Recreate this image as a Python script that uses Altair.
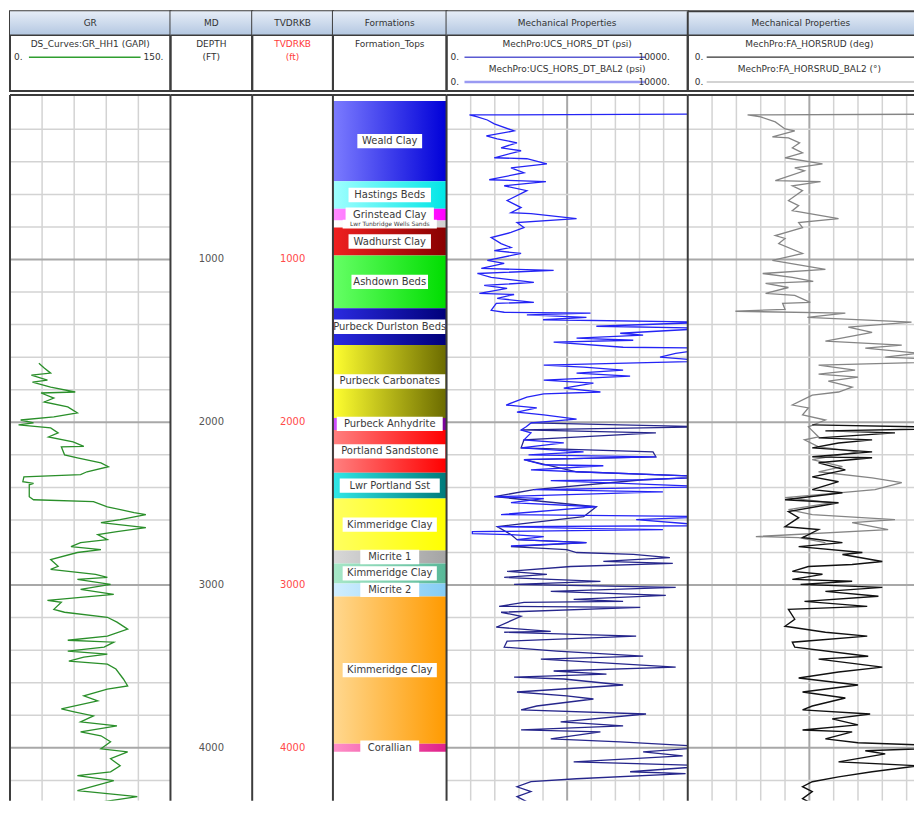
import altair as alt
import pandas as pd

# ---------------- data ----------------
GR_DEPTH = [1637, 1667, 1698, 1710, 1741, 1753, 1784, 1814, 1820, 1851, 1875, 1906, 1943, 1967, 1986,
            2004, 2016, 2035, 2065, 2090, 2120, 2148, 2151, 2200, 2218, 2249, 2273, 2304, 2322, 2335,
            2365, 2375, 2384, 2457, 2476, 2488, 2519, 2555, 2567, 2598, 2617, 2647, 2672, 2690, 2721,
            2739, 2764, 2782, 2800, 2843, 2885, 2904, 2934, 2953, 2965, 2996, 3027, 3057, 3094, 3106,
            3149, 3167, 3198, 3228, 3271, 3314, 3339, 3351, 3381, 3406, 3424, 3443, 3467, 3486, 3516,
            3577, 3620, 3639, 3681, 3712, 3761, 3779, 3804, 3841, 3865, 3902, 3926, 3963, 4006, 4025,
            4067, 4110, 4147, 4171, 4202, 4263, 4300, 4343, 4373]
GR_VALUE = [27, 32, 38, 20, 35, 21, 38, 61, 29, 41, 32, 54, 63, 41, 10,
            22, 8, 38, 45, 36, 59, 69, 48, 51, 63, 85, 92, 72, 66, 13,
            12, 22, 18, 18, 22, 78, 91, 116, 127, 103, 85, 127, 100, 82, 91,
            66, 57, 85, 63, 38, 45, 38, 80, 91, 63, 94, 66, 97, 35, 48,
            41, 51, 91, 100, 110, 91, 54, 97, 88, 54, 91, 69, 55, 91, 99,
            106, 110, 91, 69, 82, 48, 60, 78, 66, 100, 66, 85, 94, 85, 110,
            94, 103, 94, 63, 97, 63, 119, 75, 91]

UCS_DEPTH = [106, 112, 124, 143, 167, 210, 241, 259, 283, 314, 332, 375, 381, 412, 437,
             467, 510, 522, 547, 577, 638, 681, 712, 718, 749, 773, 804, 834, 865, 902,
             926, 945, 963, 1006, 1024, 1055, 1067, 1086, 1110, 1141, 1159, 1178, 1208, 1215, 1239,
             1263, 1269, 1312, 1324, 1330, 1340, 1355, 1370, 1385, 1410, 1422, 1453, 1465, 1483, 1496,
             1508, 1539, 1545, 1576, 1600, 1624, 1649, 1661, 1679, 1698, 1716, 1741, 1759, 1790, 1814,
             1826, 1845, 1894, 1912, 1937, 1955, 1980, 2004, 2028, 2047, 2065, 2108, 2127, 2157, 2182,
             2200, 2212, 2230, 2261, 2267, 2292, 2304, 2335, 2353, 2358, 2396, 2414, 2427, 2457, 2469,
             2494, 2519, 2567, 2580, 2598, 2635, 2641, 2653, 2659, 2672, 2684, 2690, 2702, 2721, 2739, 2760]
UCS_VALUE = [11000, 950, 1280, 1690, 1980, 2800, 1650, 2100, 2920, 2260, 3090, 1980, 3330, 4160, 2670,
             3210, 1770, 4120, 2390, 3330, 2510, 3090, 2670, 3500, 5390, 2920, 3210, 2670, 1850, 2260,
             2670, 1980, 3090, 1690, 2390, 1440, 4440, 1280, 1850, 3620, 1560, 2510, 1360, 2800, 2100,
             3620, 2060, 1850, 2390, 5970, 3330, 5800, 4000, 11000, 6210, 11000, 7200, 8150, 5390, 7740,
             4440, 7320, 11000, 9500, 8850, 11000, 4030, 5680, 7320, 5390, 7610, 4030, 6090, 4860, 6380,
             4030, 3330, 2470, 3740, 2920, 4030, 5390, 3500, 3300, 3090, 3500, 3210, 4860, 3090, 5680,
             3400, 8680, 3210, 4030, 6500, 3500, 5390, 11000, 8150, 4320, 11000, 3620, 8970, 1980, 4030,
             2670, 6210, 2260, 11000, 7860, 11000, 2100, 6090, 8970, 1070, 1070, 2670, 4030, 2920, 5800, 2670]

UCS_BAL2_DEPTH = [2004, 2028, 2047, 2065, 2108, 2157, 2182, 2212, 2230, 2304, 2335, 2353, 2414, 2457, 2519,
                  2580, 2641, 2690, 2721, 2739, 2764, 2782, 2800, 2812, 2831, 2855, 2867, 2886, 2916, 2934,
                  2953, 2977, 2996, 3014, 3039, 3063, 3088, 3100, 3106, 3131, 3137, 3167, 3192, 3259, 3284,
                  3290, 3314, 3345, 3381, 3406, 3437, 3455, 3504, 3528, 3547, 3565, 3577, 3614, 3657, 3681,
                  3700, 3743, 3767, 3792, 3841, 3865, 3890, 3902, 3945, 3963, 3994, 4025, 4049, 4086, 4110,
                  4147, 4159, 4190, 4208, 4239, 4269, 4300, 4331, 4343, 4361, 4386]
UCS_BAL2_VALUE = [3500, 11000, 3090, 8680, 3210, 3090, 8560, 8680, 3210, 5390, 11000, 8150, 3620, 1980, 6210,
                  5680, 2100, 2670, 2920, 5800, 2670, 4980, 5390, 7740, 9260, 6500, 9380, 5150, 2510, 4160,
                  2390, 6380, 2800, 9500, 4320, 9090, 5270, 7320, 3210, 2180, 8030, 2260, 3090, 2060, 4320,
                  2390, 7860, 2510, 2390, 4570, 8150, 3910, 9500, 4440, 6630, 2800, 4860, 7320, 2920, 4980,
                  6090, 3740, 3090, 8270, 4730, 7320, 3090, 6380, 4320, 7200, 11000, 8150, 9790, 5270, 11000,
                  7610, 9910, 5390, 3500, 2920, 3500, 2920, 3330, 2800, 4730, 3620]

FA_BAL2_DEPTH = [106, 112, 124, 155, 198, 210, 247, 253, 283, 314, 345, 375, 412, 437, 455,
                 516, 522, 547, 577, 638, 669, 700, 749, 773, 804, 853, 871, 902, 963, 1006,
                 1061, 1086, 1110, 1135, 1147, 1172, 1208, 1220, 1263, 1269, 1306, 1318, 1330, 1355, 1385,
                 1416, 1447, 1502, 1526, 1545, 1576, 1600, 1624, 1649, 1679, 1704, 1722, 1747, 1784, 1814,
                 1833, 1894, 1912, 1955, 1986, 2028, 2090, 2108, 2151, 2182, 2230, 2273, 2304, 2341, 2371,
                 2414, 2463, 2494, 2537, 2567, 2598, 2617, 2659, 2702, 2708, 2739]
FA_BAL2_VALUE = [60, 12.3, 15, 18, 20, 22, 17.4, 20.7, 23, 21.5, 23.6, 20, 27.7, 22, 24,
                 18, 27.3, 21.5, 23.6, 20.7, 22.8, 21.5, 31, 22.8, 23.6, 18, 20, 18.7, 23.6, 17.4,
                 28.3, 15.4, 21.5, 25.8, 16, 20.7, 16, 22, 25.2, 19.5, 20, 9.8, 32.4, 24.6, 46,
                 33, 37.9, 28.3, 44, 36.5, 47.4, 40.6, 60, 26.9, 34.4, 26.9, 35, 28.9, 33.8, 31,
                 25.6, 21.5, 24.8, 23.6, 28.3, 24.8, 26.9, 24, 26.9, 35, 25.6, 31.8, 26.9, 37.9, 44,
                 38.5, 20, 29.7, 20.7, 25.6, 42.6, 33.8, 41.2, 14, 22.8, 28.3]

FA_DEPTH = [2016, 2035, 2053, 2065, 2096, 2108, 2127, 2157, 2182, 2212, 2218, 2249, 2292, 2335, 2365,
            2414, 2433, 2476, 2494, 2549, 2586, 2641, 2659, 2708, 2739, 2764, 2800, 2812, 2855, 2874,
            2886, 2916, 2934, 2965, 2977, 2996, 3014, 3039, 3069, 3100, 3131, 3149, 3210, 3253, 3290,
            3314, 3351, 3381, 3437, 3455, 3504, 3534, 3571, 3614, 3657, 3694, 3743, 3767, 3792, 3822,
            3859, 3890, 3902, 3945, 3969, 3994, 4018, 4037, 4086, 4110, 4147, 4178, 4208, 4239, 4269,
            4312, 4343, 4373]
FA_VALUE = [25.6, 60, 28.3, 42.6, 26.9, 37.9, 31, 25.6, 37.9, 25.6, 37.9, 26.9, 32.4, 25.6, 31,
            25.6, 31.8, 20, 31, 20.7, 22.8, 20, 26.9, 23.6, 31.8, 22.8, 35.9, 31.8, 40, 33.8,
            24.8, 21.5, 27.7, 21.5, 33.8, 23.2, 40, 28.3, 39.2, 24, 36.9, 20.7, 22, 20, 28.3,
            36.9, 21.5, 22, 37.1, 26.9, 40, 31, 22.8, 35, 23.6, 32.4, 25.6, 23.6, 37.5, 29.7,
            35, 23.6, 33.8, 28.3, 35, 60, 36.5, 40.6, 31, 47.4, 37.9, 31, 25.6, 23.6, 25.6,
            23.6, 25.6, 28.9]

FORMATION_NAMES = ["Weald Clay", "Hastings Beds", "Grinstead Clay", "Lwr Tunbridge Wells Sands",
                   "Wadhurst Clay", "Ashdown Beds", "Purbeck Durlston Beds", "Purbeck Carbonates",
                   "Purbeck Anhydrite", "Portland Sandstone", "Lwr Portland Sst", "Kimmeridge Clay",
                   "Micrite 1", "Kimmeridge Clay", "Micrite 2", "Kimmeridge Clay", "Corallian"]
FORMATION_TOPS = [26, 520, 688, 761, 804, 975, 1300, 1526, 1973, 2047, 2310, 2469, 2788, 2867, 2990, 3070, 3975]
FORMATION_BASES = [520, 688, 761, 804, 975, 1300, 1526, 1973, 2047, 2310, 2469, 2788, 2867, 2990, 3070, 3975, 4024]
FORMATION_LIGHT = ["#7c7cff", "#a0ffff", "#ff8cff", "#ffffff", "#f02020", "#66ff66", "#2a2ae0", "#ffff30",
                   "#d050ff", "#ff8080", "#30e8e8", "#ffff60", "#d8d8d8", "#a8e8c8", "#d0eeff", "#ffd890", "#ff90c8"]
FORMATION_DARK = ["#0000d8", "#00e6e6", "#ff00ff", "#d0d0d0", "#880000", "#00dd00", "#00007a", "#6b6b00",
                  "#7a0099", "#ff0000", "#007a7a", "#ffff00", "#a4a4a4", "#58b898", "#84ccf4", "#ff9a00", "#e0208a"]
LABEL_SIZE = [10, 10, 10, 6, 10, 10, 10, 10, 10, 10, 10, 10, 10, 10, 10, 10, 10]

DEPTH_LABELS = [1000, 2000, 3000, 4000]

# ---------------- layout ----------------
FONT = "DejaVu Sans"
BODY_H = 708
Y_DOMAIN = [-10.4, 4324.7]
HEAD_H = 80
W_GR, W_MD, W_TVD, W_FM, W_M1, W_M2 = 161, 82, 81, 114, 242, 227
M2_MAX = 50 * 227 / 244          # last track is cut by the page edge, as in the picture
BORDER = "#3c3c3c"
DEPTH_MINOR = [d for d in range(200, 4400, 200) if d % 1000 != 0]
DEPTH_MAJOR = [1000, 2000, 3000, 4000]
one = pd.DataFrame({"k": [0]})
NOSTROKE = alt.ViewBackground(stroke="transparent")


def ysc():
    return alt.Scale(domain=Y_DOMAIN, reverse=True, nice=False, zero=False)


def txt(s, x, y, align="center", color="#333333", size=9):
    return alt.Chart(one).mark_text(text=s, font=FONT, fontSize=size, color=color, clip=True,
                                    align=align, baseline="middle").encode(
        x=alt.value(x), y=alt.value(y))


def lline(x1, x2, y, color, w):
    return alt.Chart(one).mark_rule(color=color, strokeWidth=w).encode(
        x=alt.value(x1), x2=alt.value(x2), y=alt.value(y))


def border_left():
    return alt.Chart(one).mark_rule(color=BORDER, strokeWidth=2).encode(
        x=alt.value(0), y=alt.value(0), y2=alt.value("height"))


def border_h(y):
    return alt.Chart(one).mark_rule(color=BORDER, strokeWidth=2).encode(
        x=alt.value(0), x2=alt.value("width"), y=alt.value(y))


def header(w, title, extras, open_right=False):
    grad = alt.LinearGradient(gradient="linear",
                              stops=[alt.GradientStop(color="#e6edf7", offset=0),
                                     alt.GradientStop(color="#b3c7e1", offset=1)],
                              x1=0, x2=0, y1=0, y2=1)
    bg = alt.Chart(one).mark_rect(color=grad).encode(
        x=alt.value(0), x2=alt.value("width"), y=alt.value(0), y2=alt.value(24))
    sep = lline(0, "width", 24, BORDER, 1.5)
    layers = [bg, sep, txt(title, w / 2, 12), *extras]
    if open_right:
        layers += [border_left(), border_h(0), border_h("height")]
        return alt.layer(*layers).properties(width=w, height=HEAD_H, view=NOSTROKE)
    return alt.layer(*layers).properties(width=w, height=HEAD_H)


def body(w, layers):
    return alt.layer(*layers, border_left(), border_h(0)).properties(
        width=w, height=BODY_H, view=NOSTROKE)


def hgrid():
    minor = alt.Chart(pd.DataFrame({"d": DEPTH_MINOR})).mark_rule(
        color="#d3d3d3", strokeWidth=1.5, clip=True).encode(
        y=alt.Y("d:Q", scale=ysc(), axis=None))
    major = alt.Chart(pd.DataFrame({"d": DEPTH_MAJOR})).mark_rule(
        color="#a8a8a8", strokeWidth=2, clip=True).encode(
        y=alt.Y("d:Q", scale=ysc(), axis=None))
    return [minor, major]


def vgrid(vals, color, width, xs):
    return alt.Chart(pd.DataFrame({"v": vals})).mark_rule(color=color, strokeWidth=width, clip=True).encode(
        x=alt.X("v:Q", scale=xs, axis=None))


def curve(depths, values, color, width, xs):
    return alt.Chart(pd.DataFrame({"d": depths, "v": values})).mark_line(
        color=color, strokeWidth=width, clip=True).encode(
        x=alt.X("v:Q", scale=xs, axis=None),
        y=alt.Y("d:Q", scale=ysc(), axis=None),
        order=alt.Order("d:Q"))


# ---------------- headers ----------------
h_gr = header(W_GR, "GR", [
    txt("DS_Curves:GR_HH1 (GAPI)", W_GR / 2, 33),
    txt("0.", 4, 46, align="left"),
    lline(19, 131, 46, "#2f9e2f", 1.5),
    txt("150.", 154, 46, align="right"),
])
h_md = header(W_MD, "MD", [txt("DEPTH", W_MD / 2, 33), txt("(FT)", W_MD / 2, 46)])
h_tvd = header(W_TVD, "TVDRKB", [txt("TVDRKB", W_TVD / 2, 33, color="#ff3b3b"),
                                 txt("(ft)", W_TVD / 2, 46, color="#ff3b3b")])
h_fm = header(W_FM, "Formations", [txt("Formation_Tops", W_FM / 2, 33)])
h_m1 = header(W_M1, "Mechanical Properties", [
    txt("MechPro:UCS_HORS_DT (psi)", W_M1 / 2, 33),
    txt("0.", 4, 46, align="left"),
    lline(18, 200, 46, "#5a5ad2", 1.5),
    txt("10000.", 224, 46, align="right"),
    txt("MechPro:UCS_HORS_DT_BAL2 (psi)", W_M1 / 2, 58),
    txt("0.", 4, 71, align="left"),
    lline(18, 200, 71, "#9a9af2", 2.5),
    txt("10000.", 224, 71, align="right"),
])
h_m2 = header(W_M2, "Mechanical Properties", [
    txt("MechPro:FA_HORSRUD (deg)", 244 / 2, 33),
    txt("0.", 7, 46, align="left"),
    lline(19, "width", 46, "#333333", 1.2),
    txt("MechPro:FA_HORSRUD_BAL2 (°)", 244 / 2, 58),
    txt("0.", 7, 71, align="left"),
    lline(19, "width", 71, "#c4c4c4", 1.5),
], open_right=True)

# ---------------- bodies ----------------
gr_x = alt.Scale(domain=[0, 150], nice=False, zero=False)
b_gr = body(W_GR, [
    vgrid([30, 60, 90, 120], "#d3d3d3", 1.5, gr_x),
    *hgrid(),
    curve(GR_DEPTH, GR_VALUE, "#2a8f2a", 1.3, gr_x),
])

depth_df = pd.DataFrame({"d": DEPTH_LABELS})
b_md = body(W_MD, [alt.Chart(depth_df).mark_text(font=FONT, fontSize=10, color="#555555").encode(
    y=alt.Y("d:Q", scale=ysc(), axis=None), x=alt.value(W_MD / 2), text=alt.Text("d:Q", format="d"))])
b_tvd = body(W_TVD, [alt.Chart(depth_df).mark_text(font=FONT, fontSize=10, color="#ff4a4a").encode(
    y=alt.Y("d:Q", scale=ysc(), axis=None), x=alt.value(W_TVD / 2), text=alt.Text("d:Q", format="d"))])

fm_df = pd.DataFrame({"name": FORMATION_NAMES, "top": FORMATION_TOPS, "base": FORMATION_BASES,
                      "fs": LABEL_SIZE})
fm_layers = []
for i in range(len(FORMATION_NAMES)):
    g = alt.LinearGradient(gradient="linear",
                           stops=[alt.GradientStop(color=FORMATION_LIGHT[i], offset=0),
                                  alt.GradientStop(color=FORMATION_DARK[i], offset=1)],
                           x1=0, x2=1, y1=0, y2=0)
    fm_layers.append(
        alt.Chart(fm_df.iloc[[i]]).mark_rect(color=g).encode(
            x=alt.value(0), x2=alt.value("width"),
            y=alt.Y("top:Q", scale=ysc(), axis=None), y2="base:Q"))

fx = alt.Scale(domain=[0, 1], nice=False, zero=False)
lab_base = alt.Chart(fm_df).transform_calculate(
    mid="(datum.top + datum.base) / 2",
    bx1="max(0.01, 0.5 - (length(datum.name) * 0.59 * datum.fs + 6) / 2 / %d)" % W_FM,
    bx2="min(0.99, 0.5 + (length(datum.name) * 0.59 * datum.fs + 6) / 2 / %d)" % W_FM,
    by1="(datum.top + datum.base) / 2 - datum.fs * 0.72 * 6.123",
    by2="(datum.top + datum.base) / 2 + datum.fs * 0.72 * 6.123",
)
lab_box = lab_base.mark_rect(color="white").encode(
    x=alt.X("bx1:Q", scale=fx, axis=None), x2="bx2:Q",
    y=alt.Y("by1:Q", scale=ysc(), axis=None), y2="by2:Q")
lab_txt = lab_base.mark_text(font=FONT, color="#3a3a3a", baseline="middle").encode(
    x=alt.value(W_FM / 2), y=alt.Y("mid:Q", scale=ysc(), axis=None),
    text="name:N", size=alt.Size("fs:Q", scale=None))
b_fm = body(W_FM, [*fm_layers, lab_box, lab_txt])

m1_x = alt.Scale(domain=[0, 10000], nice=False, zero=False)
b_m1 = body(W_M1, [
    vgrid([1000, 2000, 3000, 4000, 6000, 7000, 8000, 9000], "#d3d3d3", 1.5, m1_x),
    vgrid([5000], "#a8a8a8", 2, m1_x),
    *hgrid(),
    curve(UCS_BAL2_DEPTH, UCS_BAL2_VALUE, "#26268c", 1.3, m1_x),
    curve(UCS_DEPTH, UCS_VALUE, "#2424f5", 1.3, m1_x),
])

m2_x = alt.Scale(domain=[0, M2_MAX], nice=False, zero=False)
b_m2 = body(W_M2, [
    vgrid([5, 10, 15, 20, 30, 35, 40, 45], "#d3d3d3", 1.5, m2_x),
    vgrid([25], "#a8a8a8", 2, m2_x),
    *hgrid(),
    curve(FA_BAL2_DEPTH, FA_BAL2_VALUE, "#858585", 1.3, m2_x),
    curve(FA_DEPTH, FA_VALUE, "#111111", 1.4, m2_x),
])

headers = alt.hconcat(h_gr, h_md, h_tvd, h_fm, h_m1, h_m2, spacing=0, bounds="flush")
bodies = alt.hconcat(b_gr, b_md, b_tvd, b_fm, b_m1, b_m2, spacing=0, bounds="flush")

chart = alt.vconcat(headers, bodies, spacing=0).properties(
    padding=0, background="white"
).configure_view(stroke=BORDER, strokeWidth=2)

chart.save("out.html", embed_options={"renderer": "svg", "actions": False})
